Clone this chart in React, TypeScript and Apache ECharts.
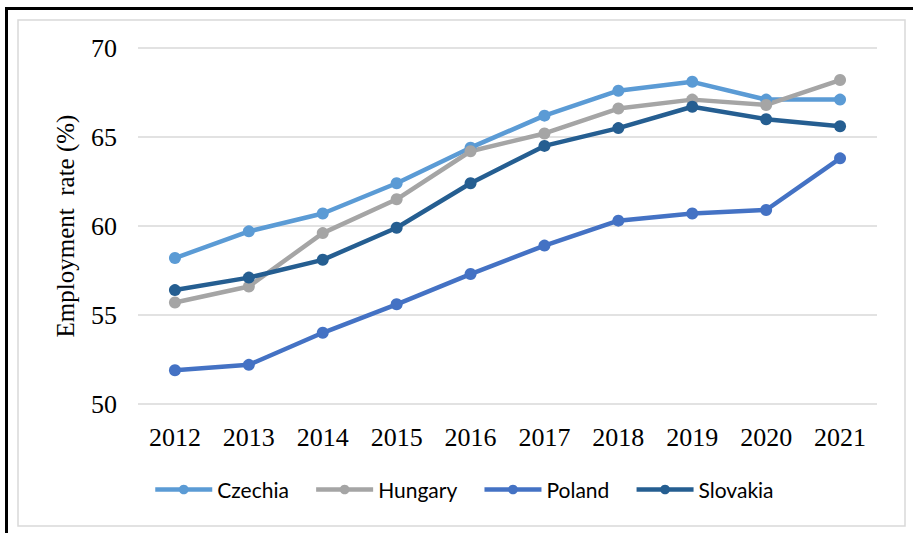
import React, { useEffect, useRef } from "react";
import * as echarts from "echarts";

const years = ["2012", "2013", "2014", "2015", "2016", "2017", "2018", "2019", "2020", "2021"];
const czechia = [58.2, 59.7, 60.7, 62.4, 64.4, 66.2, 67.6, 68.1, 67.1, 67.1];
const hungary = [55.7, 56.6, 59.6, 61.5, 64.2, 65.2, 66.6, 67.1, 66.8, 68.2];
const poland = [51.9, 52.2, 54.0, 55.6, 57.3, 58.9, 60.3, 60.7, 60.9, 63.8];
const slovakia = [56.4, 57.1, 58.1, 59.9, 62.4, 64.5, 65.5, 66.7, 66.0, 65.6];

const seriesNames = ["Czechia", "Hungary", "Poland", "Slovakia"];
const seriesData = [czechia, hungary, poland, slovakia];
const seriesColors = ["#5B9BD5", "#A5A5A5", "#4472C4", "#255E91"];

export default function App() {
  const ref = useRef<HTMLDivElement>(null);
  useEffect(() => {
    if (!ref.current) return;
    const chart = echarts.init(ref.current, null, { renderer: "svg" });
    const serif = "'Liberation Serif', 'Times New Roman', serif";
    chart.setOption({
      animation: false,
      backgroundColor: "#ffffff",
      grid: { left: 138, right: 36, top: 48, bottom: 131 },
      legend: {
        left: 153,
        top: 479,
        padding: 0,
        itemWidth: 57,
        itemHeight: 12,
        itemGap: 25,
        lineStyle: { width: 4.5 },
        textStyle: { fontFamily: "Lato, 'Noto Sans', sans-serif", fontSize: 21, color: "#000" },
        data: seriesNames,
      },
      xAxis: {
        type: "category",
        data: years,
        boundaryGap: true,
        axisLine: { show: false },
        axisTick: { show: false },
        axisLabel: { fontFamily: serif, fontSize: 26, color: "#000", margin: 20 },
      },
      yAxis: {
        type: "value",
        min: 50,
        max: 70,
        interval: 5,
        name: "Employment  rate (%)",
        nameLocation: "middle",
        nameGap: 60,
        nameTextStyle: { fontFamily: serif, fontSize: 25, color: "#000" },
        axisLine: { show: false },
        axisTick: { show: false },
        axisLabel: { fontFamily: serif, fontSize: 26, color: "#000", margin: 21 },
        splitLine: { lineStyle: { color: "#d9d9d9", width: 1.5 } },
      },
      series: seriesNames.map((name, i) => ({
        name,
        type: "line",
        data: seriesData[i],
        symbol: "circle",
        symbolSize: 12,
        color: seriesColors[i],
        lineStyle: { width: 4.5, color: seriesColors[i] },
        itemStyle: { color: seriesColors[i] },
      })),
      graphic: [
        { type: "rect", shape: { x: 18, y: 20, width: 887, height: 506 }, style: { fill: "none", stroke: "#d9d9d9", lineWidth: 1.5 }, z: -1 },
        { type: "line", shape: { x1: 5, y1: 8.5, x2: 913, y2: 8.5 }, style: { stroke: "#000", lineWidth: 3 } },
        { type: "line", shape: { x1: 6.5, y1: 7, x2: 6.5, y2: 533 }, style: { stroke: "#000", lineWidth: 3 } },
      ],
    });
    return () => chart.dispose();
  }, []);
  return <div ref={ref} style={{ position: "fixed", left: 0, top: 0, width: 913, height: 535 }} />;
}
